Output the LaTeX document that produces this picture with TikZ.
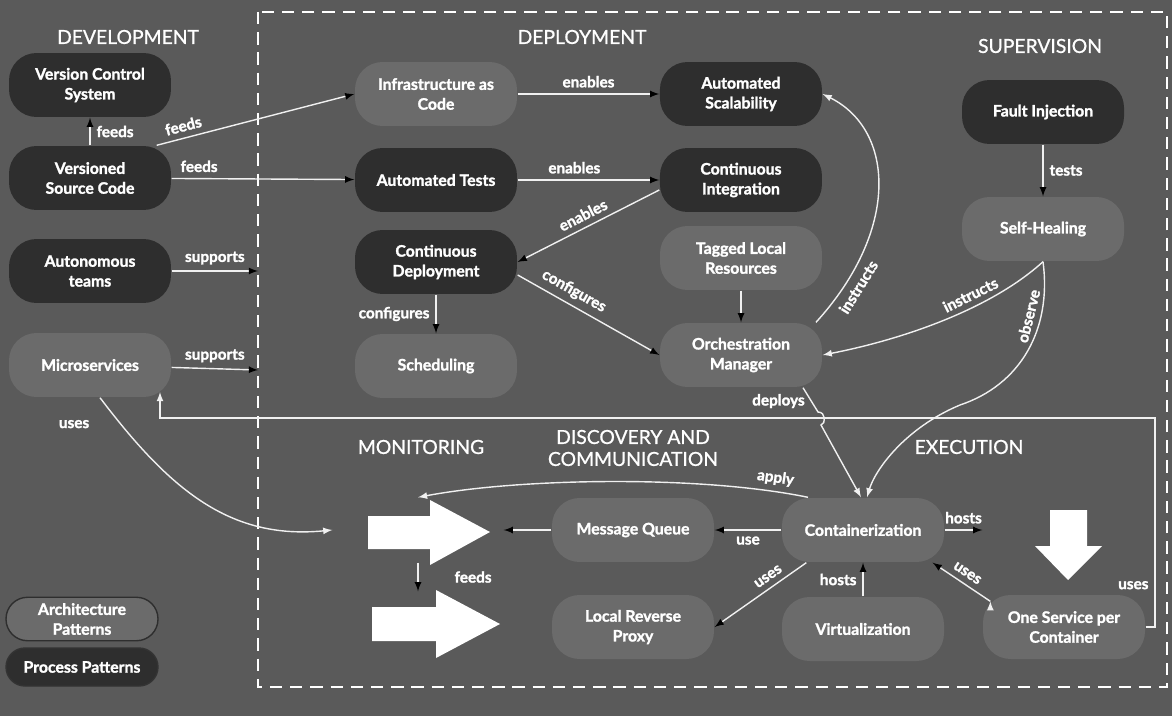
\documentclass[tikz,border=0pt]{standalone}
\usepackage{fontspec}
\setmainfont{Lato}[BoldFont={Lato Bold}, BoldFeatures={FakeBold=1.6}]
\newfontfamily\titlefont{Lato}[FakeBold=0.9]
\usetikzlibrary{arrows}
\usetikzlibrary{positioning}

\definecolor{bg}{HTML}{5A5A5A}
\definecolor{archfill}{HTML}{6B6B6B}
\definecolor{procfill}{HTML}{2E2E2E}
\definecolor{wire}{HTML}{F0F0F0}

\begin{document}
\begin{tikzpicture} [->,>=latex,x=0.02cm,y=-0.02cm,node distance=6.1cm,line width=0.8pt,
    pat/.style={-, rounded corners=0.55cm, minimum width=3.24cm, minimum height=1.28cm,
      align=center, text=white, font=\bfseries\fontsize{9}{11.3}\selectfont},
    arch/.style={pat, fill=archfill},
    proc/.style={pat, fill=procfill},
    hid/.style={minimum width=3.4cm, minimum height=1.28cm},
    title/.style={text=white, align=center, font=\titlefont\fontsize{11}{12.5}\selectfont},
    lbl/.style={text=white, font=\bfseries\fontsize{8.7}{9.5}\selectfont}]

  \useasboundingbox (0,0) rectangle (1172,716);
  \fill[-, bg] (0,0) rectangle (1172,716);
  \draw[-, white, line width=1.5pt, dash pattern=on 7pt off 4.5pt] (258,12) rectangle (1167,687);

  % titles
  \node[title] (tdev) at (128,37) {DEVELOPMENT};
  \node[title] (tdep) at (582,37) {DEPLOYMENT};
  \node[title] (tsup) at (1040,46) {SUPERVISION};
  \node[title] (tmon) at (421,447) {MONITORING};
  \node[title] (tdis) at (633,448) {DISCOVERY AND\\COMMUNICATION};
  \node[title] (texe) at (969,447) {EXECUTION};

  % development
  \node[proc] (vcs) at (90,85) {Version Control\\System};
  \node[proc] (vsc) at (90,178) {Versioned\\Source Code};
  \node[proc] (team) at (90,271) {Autonomous\\teams};
  \node[arch] (ms) at (90,365) {Microservices};
  \coordinate (boxin1) at (258,271);
  \coordinate (boxin2) at (258,370);
  \coordinate (msin) at (160,392);

  % deployment
  \node[arch] (iac) at (436,94) {Infrastructure as\\Code};
  \node[proc] (as) [right of=iac] {Automated\\Scalability};
  \node[proc] (at) at (436,180) {Automated Tests};
  \node[proc] (ci) [right of=at] {Continuous\\Integration};
  \node[proc] (cd) at (436,262) {Continuous\\Deployment};
  \node[arch] (tlr) at (741,258) {Tagged Local\\Resources};
  \node[arch] (sch) at (436,366) {Scheduling};
  \node[arch] (om) at (741,355) {Orchestration\\Manager};

  % supervision
  \node[proc] (fi) at (1043,112) {Fault Injection};
  \node[arch] (sh) at (1043,229) {Self-Healing};

  % monitoring, discovery, execution
  \node[hid] (mon) at (418,530) {};
  \node[hid] (mon2) at (418,624) {};
  \node[arch] (mq) at (633,530) {Message Queue};
  \node[arch] (cont) at (863,530) {Containerization};
  \node[hid] (exe) at (1068,530) {};
  \node[arch] (lrp) at (633,627) {Local Reverse\\Proxy};
  \node[arch] (virt) at (863,629) {Virtualization};
  \node[arch] (osc) at (1064,627) {One Service per\\Container};

  % legend
  \node[arch, draw=procfill, minimum width=3.04cm, minimum height=0.86cm, rounded corners=0.43cm] (leg1) at (82,619) {Architecture\\Patterns};
  \node[proc, draw=black!80, minimum width=3.04cm, minimum height=0.76cm, rounded corners=0.38cm] (leg2) at (82,667) {Process Patterns};

  \path[draw=wire]
    (vsc) edge node[lbl, right] {feeds} (vcs)
    ([xshift=-0.3cm]vsc.north east) edge node[lbl, above, sloped, pos=0.15] {feeds} (iac.west)
    (vsc) edge node[lbl, above, pos=0.15] {feeds} (at)
    (team) edge node[lbl, above] {supports} (boxin1)
    (ms) edge node[lbl, above] {supports} (boxin2)
    (iac) edge node[lbl, above] {enables} (as)
    (at) edge node[lbl, above, pos=0.4] {enables} (ci)
    ([yshift=-0.2cm]ci.west) edge node[lbl, above, sloped] {enables} (cd.east)
    (cd) edge node[lbl, left] {configures} (sch)
    ([yshift=-0.26cm]cd.east) edge node[lbl, above, sloped, pos=0.35] {configures} (om.west)
    (tlr) edge (om)
    (fi) edge node[lbl, right] {tests} (sh)
    (mq) edge (mon)
    (cont) edge node[lbl, below] {use} (mq)
    (cont) edge node[lbl, above] {hosts} (exe)
    (mon) edge node[lbl, right=0.6cm] {feeds} (mon2)
    ([xshift=0.5cm]cont.south west) edge node[lbl, above, sloped, pos=0.35] {uses} (lrp.east)
    (virt) edge node[lbl, left] {hosts} (cont)
    ([xshift=0.16cm,yshift=-0.14cm]osc.north west) edge node[lbl, above, sloped] {uses} ([xshift=-0.24cm]cont.south east);

  % curved and routed connectors
  \draw[wire] ([xshift=1.5cm]om.north) .. controls (900,230) and (895,130) .. (as.east)
    node[lbl, sloped, below, pos=0.15] {instructs};
  \draw[wire] (sh.south) .. controls (990,310) and (900,340) .. (om.east)
    node[lbl, sloped, above, pos=0.35] {instructs};
  \draw[wire] (sh.south) .. controls (1052,330) and (1020,385) .. (960,405)
    node[lbl, sloped, above, pos=0.3] {observe}
    .. controls (905,428) and (875,470) .. ([xshift=0.08cm]cont.north);
  \draw[wire] ([xshift=1.24cm]om.south) -- (818,412) node[lbl, left, pos=0.55] {deploys}
    .. controls (826,412) and (826,424) .. (821,425) -- ([xshift=-0.04cm]cont.north);
  \draw[wire] ([xshift=-1.1cm]cont.north) .. controls (700,475) and (520,478) .. (mon.north)
    node[lbl, sloped, above, pos=0.1] {apply};
  \draw[wire] ([xshift=0.2cm]ms.south) .. controls (170,490) and (230,540) .. (mon.west)
    node[lbl, left=0.5cm, pos=0.1] {uses};
  \draw[wire] (osc.east) -| node[lbl, left, pos=0.6] {uses} (1155,418) -| (msin);

  % white block arrows
  \fill[-, white] (368,516) -- (430,516) -- (430,500) -- (490,532) -- (430,565) -- (430,549) -- (368,549) -- cycle;
  \fill[-, white] (372,607) -- (436,607) -- (436,590) -- (500,624) -- (436,658) -- (436,641) -- (372,641) -- cycle;
  \fill[-, white] (1050,510) -- (1087,510) -- (1087,546) -- (1102,546) -- (1068,580) -- (1035,546) -- (1050,546) -- cycle;

\end{tikzpicture}
\end{document}
